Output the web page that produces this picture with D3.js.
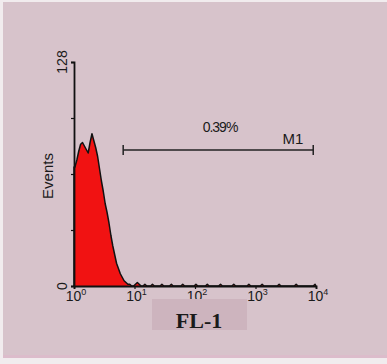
<!DOCTYPE html>
<html>
<head>
<meta charset="utf-8">
<script src="https://cdn.jsdelivr.net/npm/d3@7"></script>
<style>
  html, body { margin: 0; padding: 0; background: #f1ecee; }
  svg { display: block; }
</style>
</head>
<body>
<svg id="chart" width="387" height="364"></svg>
<script>
// FL-1 histogram: 128 log-spaced channels (32 per decade) over 10^0 .. 10^4
const channelsPerDecade = 32;
const counts = [
  68, 72, 77, 81, 82, 80, 78, 76, 82, 87, 83, 79, 74, 67, 60, 54,
  47, 42, 36, 29, 23, 18, 13, 10, 7, 5, 3, 2, 1, 1, 0, 0,
  1, 2, 1, 0, 0, 1, 0, 0, 0, 1, 0, 0, 0, 0, 1, 0,
  0, 0, 0, 1, 0, 0, 0, 0, 0, 1, 0, 0, 0, 0, 0, 0,
  1, 0, 0, 0, 0, 0, 1, 0, 0, 0, 0, 0, 0, 1, 0, 0,
  0, 0, 0, 0, 1, 0, 0, 0, 0, 0, 0, 0, 1, 0, 0, 0,
  0, 0, 0, 1, 0, 0, 0, 0, 0, 0, 0, 0, 1, 0, 0, 0,
  0, 0, 0, 0, 0, 1, 0, 0, 0, 0, 0, 0, 0, 0, 0, 1
];
const xDecades = [0, 1, 2, 3, 4];          // tick labels 10^0 .. 10^4
const yTicks = [0, 32, 64, 96, 128];
const yTickLabels = ["0", "128"];
const marker = { name: "M1", from: 6.5, to: 9000, percent: "0.39%" };
const xTitle = "FL-1";
const yTitle = "Events";

const svg = d3.select("#chart");

// panel background
svg.append("rect").attr("x", 3).attr("y", 2).attr("width", 384).attr("height", 355)
  .attr("fill", "#d7c3cb");
svg.append("rect").attr("x", 3).attr("y", 355).attr("width", 384).attr("height", 3)
  .attr("fill", "#dcbccb");

const x = d3.scaleLog().domain([1, 10000]).range([74, 316]);
const y = d3.scaleLinear().domain([0, 128]).range([286, 62]);

// channel centre values
const data = counts.map((c, i) => ({
  v: Math.pow(10, (i + 0.5) / channelsPerDecade),
  c
}));
const pts = [{ v: 1, c: 0 }, { v: 1, c: counts[0] }].concat(data, [{ v: 10000, c: 0 }]);

const area = d3.area().x(d => x(d.v)).y0(y(0)).y1(d => y(d.c));
const line = d3.line().x(d => x(d.v)).y(d => y(d.c));

svg.append("path").datum(pts).attr("d", area).attr("fill", "#f11212");
svg.append("path").datum(pts).attr("d", line)
  .attr("fill", "none").attr("stroke", "#111").attr("stroke-width", 1.5)
  .attr("stroke-linejoin", "round");

// x axis
const xAxis = d3.axisBottom(x)
  .tickValues(xDecades.map(d => Math.pow(10, d)))
  .tickSize(3).tickFormat("");
const gx = svg.append("g").attr("transform", `translate(0,${y(0)})`).call(xAxis);
gx.select(".domain").attr("stroke", "#111").attr("stroke-width", 1.8);
gx.selectAll(".tick line").attr("stroke", "#111").attr("stroke-width", 1.2);

const xl = svg.append("g").attr("font-family", "Liberation Sans, Arial, sans-serif")
  .attr("fill", "#1a1a1a");
xDecades.forEach(d => {
  const t = xl.append("text").attr("x", x(Math.pow(10, d)) + 2).attr("y", 301)
    .attr("text-anchor", "middle").attr("font-size", 14);
  t.append("tspan").text("10");
  t.append("tspan").attr("dy", -6).attr("font-size", 9).text(d);
});

// y axis
const yAxis = d3.axisLeft(y).tickValues(yTicks).tickSize(3).tickFormat("");
const gy = svg.append("g").attr("transform", `translate(${x(1)},0)`).call(yAxis);
gy.select(".domain").attr("stroke", "#111").attr("stroke-width", 1.8);
gy.selectAll(".tick line").attr("stroke", "#111").attr("stroke-width", 1.2);

const yl = svg.append("g").attr("font-family", "Liberation Sans, Arial, sans-serif")
  .attr("fill", "#1a1a1a").attr("font-size", 14);
[128, 0].forEach(v => {
  yl.append("text")
    .attr("transform", `translate(67,${y(v)}) rotate(-90)`)
    .attr("text-anchor", "middle").text(v === 128 ? yTickLabels[1] : yTickLabels[0]);
});
yl.append("text").attr("transform", `translate(53,${(y(0) + y(128)) / 2 + 2}) rotate(-90)`)
  .attr("text-anchor", "middle").attr("font-size", 15).text(yTitle);

// x title box
svg.append("rect").attr("x", 152).attr("y", 299).attr("width", 95).attr("height", 31)
  .attr("fill", "#cdb4be");
svg.append("text").attr("x", 199).attr("y", 328).attr("text-anchor", "middle")
  .attr("font-family", "Liberation Serif, Times New Roman, serif")
  .attr("font-weight", "bold").attr("font-size", 22).attr("fill", "#1a1a1a").text(xTitle);

// marker range
const my = 150;
const mg = svg.append("g").attr("stroke", "#222").attr("stroke-width", 1.5);
mg.append("line").attr("x1", x(marker.from)).attr("x2", x(marker.to)).attr("y1", my).attr("y2", my);
[marker.from, marker.to].forEach(v => {
  mg.append("line").attr("x1", x(v)).attr("x2", x(v)).attr("y1", my - 5).attr("y2", my + 5);
});
svg.append("text").attr("x", 220).attr("y", 132).attr("text-anchor", "middle")
  .attr("font-family", "Liberation Sans, Arial, sans-serif").attr("font-size", 14)
  .attr("letter-spacing", -1).attr("fill", "#1a1a1a").text(marker.percent);
svg.append("text").attr("x", 293).attr("y", 144).attr("text-anchor", "middle")
  .attr("font-family", "Liberation Sans, Arial, sans-serif").attr("font-size", 15)
  .attr("fill", "#1a1a1a").text(marker.name);
</script>
</body>
</html>
